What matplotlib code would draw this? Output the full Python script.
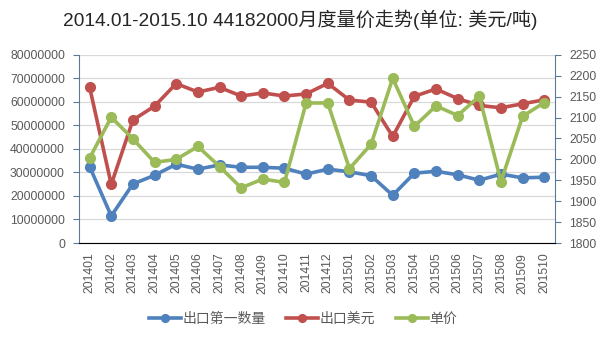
import matplotlib
matplotlib.use("Agg")
import matplotlib.pyplot as plt
from matplotlib.ticker import FixedLocator

plt.rcParams['font.family'] = ['Liberation Sans', 'Noto Sans CJK SC', 'DejaVu Sans']

months = ['201401','201402','201403','201404','201405','201406','201407','201408','201409','201410','201411',
          '201412','201501','201502','201503','201504','201505','201506','201507','201508','201509','201510']
qty = [32.5e6, 11.5e6, 25.1e6, 28.8e6, 33.5e6, 31.4e6, 33.2e6, 32.2e6, 32.2e6, 31.8e6, 29.3e6,
       31.4e6, 30.3e6, 28.6e6, 20.3e6, 29.7e6, 30.5e6, 29.0e6, 26.7e6, 29.3e6, 27.7e6, 28.0e6]
usd = [66.3e6, 24.9e6, 52.3e6, 58.2e6, 67.8e6, 64.2e6, 66.2e6, 62.5e6, 63.8e6, 62.5e6, 63.4e6,
       67.9e6, 60.8e6, 59.9e6, 45.3e6, 62.4e6, 65.5e6, 61.4e6, 58.5e6, 57.5e6, 59.2e6, 60.9e6]
price = [2003, 2101, 2049, 1993, 2000, 2031, 1983, 1932, 1953, 1945, 2135,
         2135, 1978, 2036, 2194, 2079, 2128, 2105, 2151, 1947, 2103, 2136]
left_ticks = [0, 10000000, 20000000, 30000000, 40000000, 50000000, 60000000, 70000000, 80000000]
right_ticks = [1800, 1850, 1900, 1950, 2000, 2050, 2100, 2150, 2200, 2250]
series_names = ['出口第一数量', '出口美元', '单价']
title = '2014.01-2015.10 44182000月度量价走势(单位: 美元/吨)'

blue, red, green = '#4F81BD', '#C0504D', '#9BBB59'
tc = '#595959'
axc = '#5B7A99'

fig = plt.figure(figsize=(6.06, 3.43), dpi=100)
ax = fig.add_axes([0.130, 0.2915, 0.786, 0.5485])
ax2 = ax.twinx()

x = list(range(len(months)))
kw = dict(lw=2.6, marker='o', ms=7)
l1, = ax.plot(x, qty, color=blue, **kw, zorder=3)
l2, = ax.plot(x, usd, color=red, **kw, zorder=4)
l3, = ax2.plot(x, price, color=green, **kw, zorder=5)

ax.set_xlim(-0.5, len(months) - 0.5)
ax.set_ylim(0, 80000000)
ax2.set_ylim(1800, 2250)
ax.yaxis.set_major_locator(FixedLocator(left_ticks))
ax2.yaxis.set_major_locator(FixedLocator(right_ticks))
ax.set_yticklabels([str(v) for v in left_ticks])
ax2.set_yticklabels([str(v) for v in right_ticks])
ax.set_xticks(x)
ax.set_xticklabels(months, rotation=90)

ax.grid(axis='y', color='#D9D9D9', lw=0.9)
ax.set_axisbelow(True)
for a in (ax, ax2):
    for s in ('top', 'left', 'right'):
        a.spines[s].set_visible(False)
ax.spines['bottom'].set_color('#D9D9D9')
ax.spines['left'].set_visible(True)
ax.spines['left'].set_color(axc)
ax2.spines['right'].set_visible(True)
ax2.spines['right'].set_color(axc)
ax.tick_params(axis='y', colors=tc, labelsize=8.8, length=4, color=axc, pad=6)
ax2.tick_params(axis='y', colors=tc, labelsize=8.8, length=4, color=axc, pad=6)
ax.tick_params(axis='x', colors=tc, labelsize=8.8, length=0, pad=7)
for lab in ax.get_yticklabels() + ax2.get_yticklabels() + ax.get_xticklabels():
    lab.set_color(tc)

fig.text(0.495, 0.942, title, ha='center', va='center', fontsize=13.8, color='#262626')
fig.legend([l1, l2, l3], series_names, loc='center', bbox_to_anchor=(0.5, 0.07), ncol=3,
           frameon=False, fontsize=10, handlelength=2.3, columnspacing=1.5, handletextpad=0.1,
           labelcolor=tc, markerscale=0.8)

fig.savefig('out.png', dpi=100)
